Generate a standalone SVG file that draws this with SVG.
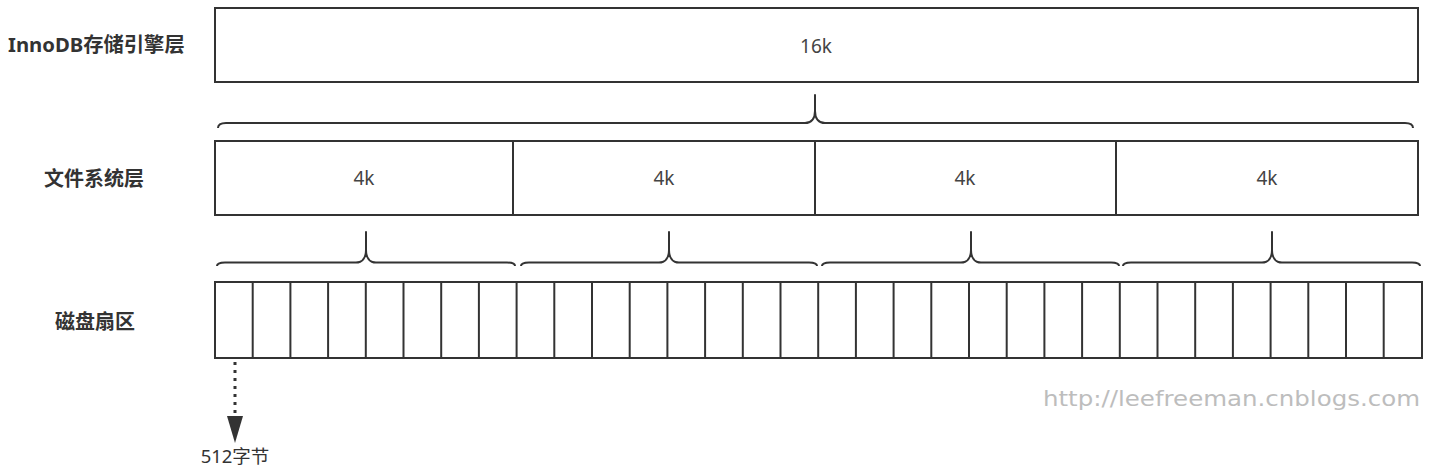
<svg xmlns="http://www.w3.org/2000/svg" width="1429" height="469" viewBox="0 0 1429 469">
<style>
.box{fill:#fff;stroke:#333;stroke-width:2}
.cell{fill:none;stroke:#333;stroke-width:2}
.lbl{font-family:"Noto Sans","Noto Sans CJK SC",sans-serif;font-weight:bold;font-size:20px;fill:#333;dominant-baseline:central}
.val{font-family:"Noto Sans","Noto Sans CJK SC",sans-serif;font-size:19px;fill:#444;text-anchor:middle;dominant-baseline:central}
.brace{fill:none;stroke:#333;stroke-width:2;stroke-linejoin:round}
.wm{font-family:"DejaVu Sans",sans-serif;font-size:21px;fill:#bdbdbd}
</style>
<defs>
<marker id="tri" viewBox="0 0 10 10" refX="10" refY="5" markerWidth="27" markerHeight="16" markerUnits="userSpaceOnUse" orient="auto" preserveAspectRatio="none">
<path d="M0,0 L10,5 L0,10 Z" fill="#333"/>
</marker>
</defs>
<rect width="1429" height="469" fill="#fff"/>

<g id="labels">
<text class="lbl" x="8" y="44" style="font-size:20.3px">InnoDB存储引擎层</text>
<text class="lbl" x="44" y="178">文件系统层</text>
<text class="lbl" x="55" y="321">磁盘扇区</text>
</g>

<g id="innodb-page">
<rect class="box" x="215" y="8" width="1203" height="74"/>
<text class="val" x="816" y="46">16k</text>
</g>

<g id="fs-blocks">
<rect class="box" x="215" y="141" width="1203" height="74"/>
<line class="cell" x1="513" y1="141" x2="513" y2="215"/>
<line class="cell" x1="815" y1="141" x2="815" y2="215"/>
<line class="cell" x1="1116" y1="141" x2="1116" y2="215"/>
<text class="val" x="364" y="178">4k</text>
<text class="val" x="664" y="178">4k</text>
<text class="val" x="965" y="178">4k</text>
<text class="val" x="1267" y="178">4k</text>
</g>

<g id="disk-sectors">
<rect class="box" x="215" y="282" width="1207" height="76"/>
<path class="cell" d="M252.7,282V358M290.4,282V358M328.1,282V358M365.8,282V358M403.5,282V358M441.2,282V358M478.9,282V358M516.6,282V358M554.3,282V358M592,282V358M629.7,282V358M667.4,282V358M705.1,282V358M742.8,282V358M780.5,282V358M818.2,282V358M855.9,282V358M893.6,282V358M931.3,282V358M969,282V358M1006.7,282V358M1044.4,282V358M1082.1,282V358M1119.8,282V358M1157.5,282V358M1195.2,282V358M1232.9,282V358M1270.6,282V358M1308.3,282V358M1346,282V358M1383.7,282V358"/>
</g>

<g id="connectors">
<path class="brace" d="M218,128 C218,124.5 221,123 226,123 L805,123 C811,123 815,119 815,111 L815,95 L815,111 C815,119 819,123 825,123 L1405,123 C1410,123 1413,124.5 1413,128"/>
<path class="brace" d="M217,266 C217,263.5 220,262.5 225,262.5 L356,262.5 C362,262.5 366,258 366,250 L366,232 L366,250 C366,258 370,262.5 376,262.5 L507,262.5 C512,262.5 515,263.5 515,266"/>
<path class="brace" d="M521,266 C521,263.5 524,262.5 529,262.5 L659,262.5 C665,262.5 669,258 669,250 L669,232 L669,250 C669,258 673,262.5 679,262.5 L809,262.5 C814,262.5 817,263.5 817,266"/>
<path class="brace" d="M822,266 C822,263.5 825,262.5 830,262.5 L961,262.5 C967,262.5 971,258 971,250 L971,232 L971,250 C971,258 975,262.5 981,262.5 L1111,262.5 C1116,262.5 1119,263.5 1119,266"/>
<path class="brace" d="M1123,266 C1123,263.5 1126,262.5 1131,262.5 L1262,262.5 C1268,262.5 1272,258 1272,250 L1272,232 L1272,250 C1272,258 1276,262.5 1282,262.5 L1412,262.5 C1417,262.5 1420,263.5 1420,266"/>
<line x1="235" y1="362" x2="235" y2="416" stroke="#333" stroke-width="3" stroke-dasharray="3,5"/>
<line x1="235" y1="414" x2="235" y2="443" stroke="none" marker-end="url(#tri)"/>
</g>

<g id="sector-size">
<text x="235" y="463" text-anchor="middle" font-family="'Noto Sans','Noto Sans CJK SC',sans-serif" font-size="18.5" fill="#333">512字节</text>
</g>

<text class="wm" x="1043" y="406" textLength="377" lengthAdjust="spacingAndGlyphs">http://leefreeman.cnblogs.com</text>
</svg>
